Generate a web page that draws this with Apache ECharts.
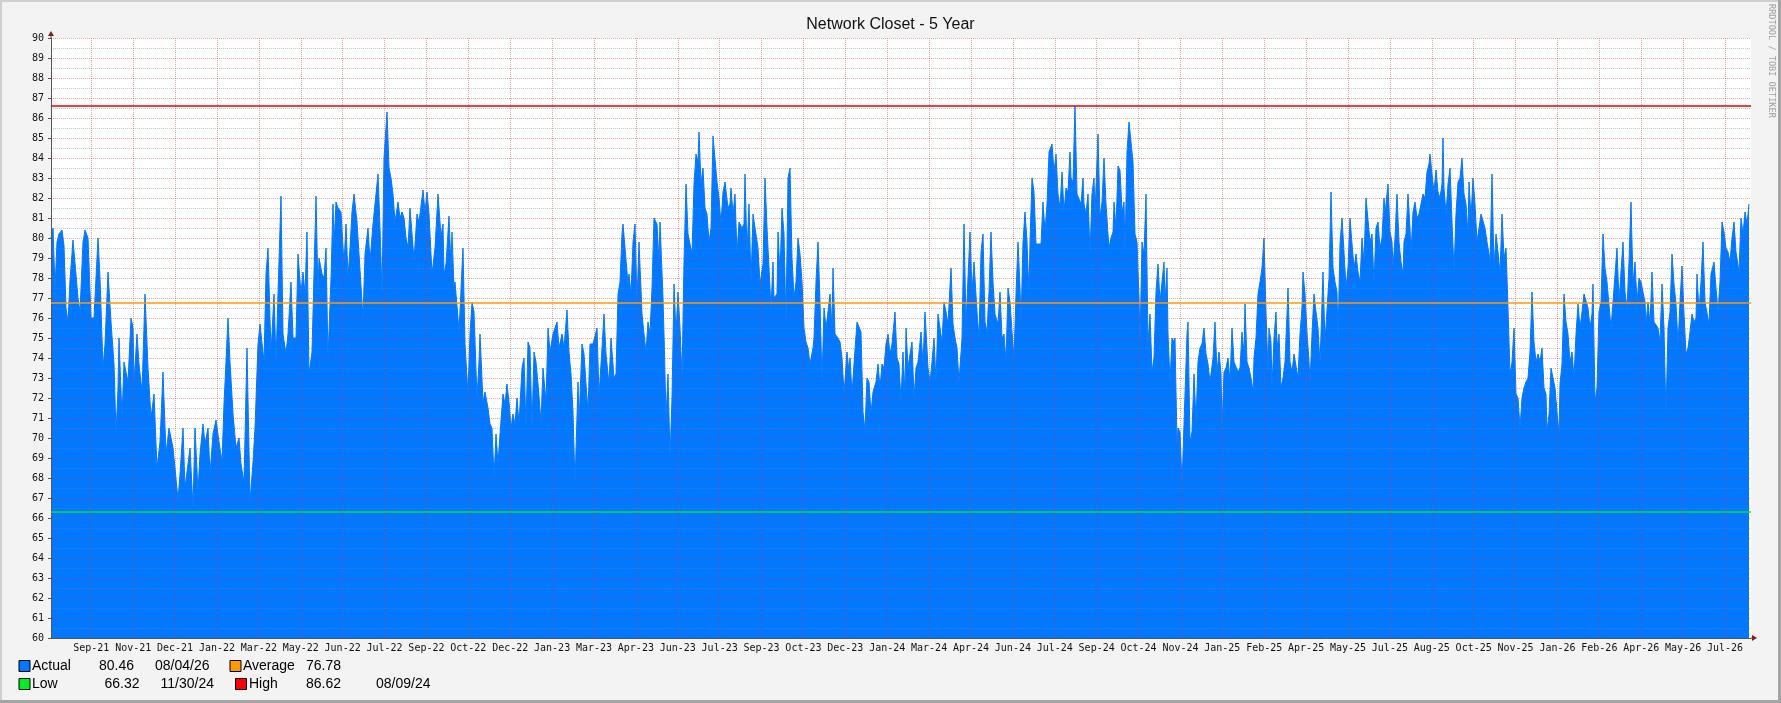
<!DOCTYPE html>
<html>
<head>
<meta charset="utf-8">
<script src="https://cdn.jsdelivr.net/npm/echarts@6/dist/echarts.min.js"></script>
<style>
html,body{margin:0;padding:0;background:#f3f3f3;}
#c{width:1781px;height:703px;}
</style>
</head>
<body>
<div id="c"></div>
<script>
// x positions are rrdtool consolidation columns (0..1700, one per plot column)
const colsA = [0,2,4,6,8,11,13,15,17,19,22,24,27,29,32,34,37,40,43,47,49,52,54,57,60,63,65,67,68,71,73,77,80,82,83,86,88,91,94,97,100,103,106,109,112,115,118,122,124,127,129,132,134,137,139,142,144,147,149,152,154,157,159,162,165,168,171,173,177,179,182,185,188,190,193,196,199,202,204,207,209,213,215,217,220,223,225,227,230,232,235,237,240,242,245,247,250,252,254,256,258,261,265,267,268,271,273,275,277,280,282,283,285,287,290,293,295,297,299,301,303,306,308,312,314,317,319,322,324,327,329,331,333,336,338];
const tempsA = [80.0,80.5,77.5,79.8,80.2,80.4,79.6,76.5,75.8,77.9,79.9,79.8,77,76.3,79.8,80.4,80.0,76,76,80,78,73.5,74.7,78.3,75.8,73.7,70.2,72.5,75,71,73.8,72.8,76,75.5,72.8,75.2,73.7,72.3,77.2,73.5,71,72.2,68.5,69.8,73.3,69.2,70.5,69.5,68.5,66.9,68.2,70.5,67.5,68.7,69.5,66.5,70.5,67.3,69.2,70.7,69.7,70.5,68.2,70.2,70.9,69.8,68.8,71.7,76,73.8,71.2,69.5,70,68.7,67.8,74.5,66.8,68.8,70.5,74.7,75.7,73.8,78.2,79.5,74.2,77.2,73.8,77.2,82.1,75.2,74.2,75.2,77.8,75,75,79.2,77.2,78.3,77.2,80.3,73.2,74.3,82.1,77.2,79,78.2,78,79.5,74,78,81.7,79.7,81.8,81.5,81.3,78.7,80.7,78,79.5,81.3,82.2,80.8,80.7,76,79.2,80.5,78.8,80.7,80.8,83.2,80.5,77.2,84,86.3,83.5];

const colsB = [340,342,344,347,349,351,353,355,357,359,361,363,366,368,372,374,376,378,381,383,384,387,390,392,393,395,398,400,401,403,404,407,408,411,412,414,417,419,421,423,426,428,429,432,434,437,439,441,443,445,447,449,452,454,456,458,460,462,464,466,468,471,473,475,477,479,481,483,485,487,490,492,495,497,499,502,504,506,508,511,513,516,518,520,522,524,527,528,531,533,535,537,539,542,544,546,548,551,553,555,557,558,560,563,565,567,569,571,572,574,577,578,580,582,584,586,588,591,593,595,597,599,601,603,606,608,609,612,613,615,617,619,621,623,625,627,629,631,633,635,637,639,641,643,645,647,648,650,652,654,656,658,660,662,664,666,668,670,672,674,677,679];
const tempsB = [83.0,82.2,80.8,81.8,81,81.3,81,80,79.5,81.5,80.2,78.9,81.2,80.8,82.4,81.3,82.3,81.2,78.2,78.3,79.5,82.2,80.1,80.7,78.2,78.7,81.1,78.5,80.3,77.5,77.8,76,75.3,78.5,79.5,74.7,72.2,75.2,76.8,76.3,72,73.8,75.2,71.8,72.3,71.5,70.7,70.5,68,70.2,68.7,70.2,72.2,71.7,72.7,71.8,70.5,71.2,70.7,72,70.7,73.5,74,70.5,74.8,74.5,70.5,74.3,73.8,72.7,70.8,73.5,71.8,75.5,74.3,75.2,75.5,75.8,74.5,75.2,74.5,76.4,74.3,73.2,71.3,67.7,72.8,70.7,74.7,74.2,72.7,71.3,74.7,74.7,74.8,75.5,72.1,74.5,76.2,74.2,74.2,72.7,75,73,73.2,77.2,77.8,80.2,80.7,79.5,77.7,78.2,77.2,79.8,80.7,76.8,79.8,76.2,75.2,74.3,75.8,75.2,77.5,81,80.7,78.8,80.8,77,75.2,71,73.2,69,72,77.7,75.2,77.3,75.5,73,78.8,82.7,80.2,80.2,79.2,82.7,84.2,83.8,85.3,82.7,83.5,81.5,81.2,79.8,80.5,85.1,85,82.8,82,80.7,82.3,82.8,81.5,81.7];

const colsC = [680,682,684,686,688,691,693,694,696,698,700,702,704,707,709,712,714,716,718,720,722,723,726,727,729,731,733,735,737,739,741,743,745,747,749,751,753,755,757,759,762,763,765,767,769,771,773,775,777,779,781,782,784,787,789,791,793,796,798,799,801,803,806,808,810,812,814,816,818,820,822,825,827,829,831,833,835,837,839,841,844,846,848,850,852,854,855,857,859,861,863,865,867,870,872,874,877,879,881,883,885,887,889,891,893,895,897,900,902,904,906,908,911,913,915,917,919,921,923,926,928,930,932,934,936,938,940,942,944,947,949,951,953,955,957,959,961,963,965,967,969,970,972,974,976,978,979,981,983,985,987,990,992,994,996,998,1001,1003,1005,1007,1009,1011,1013,1015,1017,1019];
const tempsC = [82.5,81.2,82.2,79.2,80.8,80.5,80.7,83.2,79.3,81.7,77.8,81.2,80.5,79.5,77.7,78.7,83,80.5,78.5,76.5,78.8,77,77.2,80.3,78.2,81.5,80.2,75.7,83,83.5,79,77,77.8,80,79.2,77.8,75.5,74.8,74.5,73.7,74.5,75,77.8,79.8,76.8,72.8,76.5,75.5,76.3,77.2,75.5,78.5,75.2,75,74.8,74,72.2,74.3,73.3,74,72.2,73.7,75.8,75.8,75.3,71.3,70.4,73,72.8,71.2,72.3,72.8,73.7,72.5,73.7,73.5,74.7,75.2,74.2,74.7,76.3,74,73.7,71.8,74.3,72.2,75.5,73.5,74.2,74.8,72,73.5,73.8,75.3,73.7,76.3,73.5,72.8,73.8,75,72.8,76.2,75.5,74.8,76.8,76.3,75.7,78.5,75.7,75,74.5,72.8,75,80.7,75.7,75.8,80.3,77.3,78.8,76.3,75,79.3,80.2,75.8,75.3,77.3,80.3,77.8,76.2,75.7,77.3,75,75.2,73.8,77.5,76.8,75.3,74,77.2,79.8,77.5,75.7,79.8,81.3,79.8,77.2,79.8,83,82.3,79.7,79.7,79.7,81.8,80.3,81.7,84.3,84.7,83.3,84.2,82.2,81.5,83.3,81.3,82.5,82.3,84.3];

const colsD = [1020,1022,1024,1026,1028,1030,1032,1033,1035,1037,1039,1041,1043,1044,1047,1049,1051,1053,1055,1057,1058,1060,1062,1063,1065,1067,1069,1071,1073,1074,1076,1078,1080,1082,1084,1086,1088,1089,1091,1093,1095,1097,1099,1101,1103,1105,1107,1109,1111,1113,1114,1116,1117,1119,1121,1123,1124,1126,1127,1129,1131,1133,1134,1136,1137,1139,1141,1143,1145,1147,1149,1151,1153,1155,1157,1159,1162,1164,1166,1168,1170,1171,1173,1175,1177,1179,1181,1183,1185,1187,1189,1191,1193,1194,1196,1198,1200,1202,1203,1205,1207,1209,1211,1213,1215,1217,1218,1220,1221,1223,1225,1226,1228,1230,1232,1234,1236,1237,1239,1241,1243,1245,1247,1249,1251,1252,1254,1256,1258,1259,1261,1263,1265,1267,1269,1270,1272,1274,1276,1278,1280,1282,1284,1286,1287,1289,1291,1293,1295,1297,1299,1301,1303,1305,1307,1309,1311,1313,1315,1317,1319,1321,1323,1325,1327,1329,1331,1333,1334,1337,1339,1341,1342,1344,1346,1348,1350,1352,1353,1355,1357,1359];
const tempsD = [83,82.8,86.6,82.2,82.3,81.7,83,81.7,81.2,82.2,79.2,82.2,83,81.2,85.2,81,81.8,84,81.7,80.2,79.5,80,80.3,81.8,80.5,83.6,83.4,81.3,81.8,79.3,84.3,85.8,85.8,83.8,80.2,79.8,77,74.8,79.8,79.2,82.2,74.7,76.2,73.3,74,77.3,78.7,76.8,76.8,78.8,76.8,78.5,75.2,72.8,75,74.8,75,69.7,70.5,70.3,67.7,67.7,72.2,75.2,75.8,69.8,70.3,73.2,70.8,73.8,74.5,74.7,75.5,74.2,73.7,72.8,74,75.8,73.3,74.3,73.2,70.5,73.3,73.5,74,72.8,75.5,73.8,73.7,73.3,73.5,75.3,74.2,76.7,73.8,73.5,73,72.3,74,75,77.2,77.8,78.5,80,76.3,73.3,75.5,74.8,72.5,75,76.3,74.5,75.2,72.5,73,73.8,76.2,77.5,73.8,73.3,74.2,74.2,73,75.2,76.5,78.3,77.2,75.3,73.8,72.7,75.2,77.2,76.3,75.5,73.7,75.2,78.3,74.8,74.7,78,82.3,78.5,77.8,77.3,75,79.7,81,79.3,77.5,78.5,81,79.7,78.5,79.2,78.3,77.8,80,78.8,82,82,79.8,80.2,77.7,80.5,80.8,79.5,80,82,81.2,82.7,80.3,79.8,78.5,80,82.2,79.8,78.8,78.2,79.8,80.2,82.2,80.5];

const colsE = [1360,1362,1364,1366,1368,1370,1372,1374,1376,1378,1379,1381,1383,1385,1387,1389,1391,1392,1393,1395,1397,1399,1401,1403,1405,1407,1409,1411,1413,1415,1417,1418,1420,1422,1424,1426,1428,1430,1432,1434,1436,1438,1439,1441,1443,1445,1447,1449,1451,1453,1455,1457,1459,1461,1463,1465,1467,1469,1471,1473,1475,1477,1479,1481,1483,1485,1487,1489,1491,1493,1495,1496,1498,1500,1502,1504,1506,1508,1509,1511,1513,1515,1517,1519,1521,1523,1525,1527,1529,1531,1533,1535,1537,1539,1541,1542,1544,1546,1548,1550,1552,1554,1556,1558,1560,1562,1564,1566,1568,1570,1572,1574,1576,1578,1580,1582,1584,1586,1588,1590,1592,1594,1595,1597,1599,1601,1603,1605,1607,1609,1611,1613,1614,1615,1617,1619,1621,1623,1625,1627,1629,1631,1633,1635,1637,1639,1641,1643,1645,1646,1648,1650,1652,1654,1656,1658,1660,1662,1663,1665,1667,1669,1671,1673,1675,1677,1679,1681,1683,1685,1687,1688,1690,1692,1694,1696,1698];
const tempsE = [79.2,81.3,81.8,81,81.2,81.7,82.2,82,83.3,83.7,84.2,83.2,82.3,83.4,82.3,82,82.7,85,82.5,81.2,82.7,83.5,80.8,78.3,81.2,82.8,83,84,82.2,81.7,80.2,82.8,81,83,81.7,79.8,80.5,81.2,81.3,80.5,79.8,79.2,78.7,83.2,78.5,80.2,79.3,78.2,81.2,79,79.5,76.5,73.2,73.8,75.5,72.2,72,70.5,72,72.5,72.8,73,74.3,77.3,74.8,73.8,74.2,73.8,74.5,72.5,72.2,70.3,71.2,73.5,73.5,72.5,71.3,70.2,72.7,73.7,77.2,75.8,75.2,73.8,74.3,73,75.2,76.7,75.5,76.3,77.2,77.2,76.5,75.5,76.2,77.7,71.8,72.5,76.3,76.8,80.2,78.5,77.8,77.8,75.5,76.8,76.8,79.5,76.8,76.8,79.8,77.3,76.5,78.8,81.8,77.7,78.8,76.8,78,77.8,77.8,76.8,75.7,76.8,75.7,78.3,75.8,75.7,75.5,74.8,77.7,75.5,73.2,71.2,75.5,76.3,79.2,77.7,76.7,74.7,76.8,78.6,76.2,74.2,74.5,75.3,76.2,75.8,76,78.2,76.3,77.8,79.8,76.8,76.7,75.7,78.2,78.2,78.8,77.5,76.3,77.8,80.8,80.3,79.5,79.3,78.8,80,80.8,79.3,79.2,78.3,81,80.2,81.3,80.7,81.7];

const monthLabels = ['Sep-21','Nov-21','Dec-21','Jan-22','Mar-22','May-22','Jun-22','Jul-22','Sep-22','Oct-22',
  'Dec-22','Jan-23','Mar-23','Apr-23','Jun-23','Jul-23','Sep-23','Oct-23','Dec-23','Jan-24',
  'Mar-24','Apr-24','Jun-24','Jul-24','Sep-24','Oct-24','Nov-24','Jan-25','Feb-25','Apr-25',
  'May-25','Jul-25','Aug-25','Oct-25','Nov-25','Jan-26','Feb-26','Apr-26','May-26','Jul-26'];

const titleText = 'Network Closet - 5 Year';
const lastValue = 80.46, lastDate = '08/04/26';
const avgValue = 76.78;
const lowValue = 66.32, lowDate = '11/30/24';
const highValue = 86.62, highDate = '08/09/24';

const totalCols = 1700;
const firstTickCol = 40.3, tickSpacingCols = 41.89;
const tickCols = monthLabels.map((_, k) => firstTickCol + k * tickSpacingCols);

const cols = [].concat(colsA, colsB, colsC, colsD, colsE);
const temps = [].concat(tempsA, tempsB, tempsC, tempsD, tempsE);
const seriesData = cols.map((c, i) => [c, temps[i]]);

const BLUE = '#0078ff', ORANGE = '#ff9a00', GREEN = '#00e040', RED = '#e80000';
const majorGrid = 'rgba(215,60,60,0.45)';
const minorGrid = 'rgba(130,130,130,0.45)';

const chart = echarts.init(document.getElementById('c'));

chart.setOption({
  animation: false,
  backgroundColor: '#f3f3f3',
  title: {
    text: titleText, left: 'center', top: 12,
    textStyle: { fontFamily: 'Liberation Sans', fontSize: 16, fontWeight: 'normal', color: '#111' }
  },
  grid: { left: 51, top: 38, width: 1700, height: 600, show: true, backgroundColor: '#ffffff', borderWidth: 0 },
  xAxis: {
    type: 'value', min: 0, max: totalCols, z: 3,
    axisLine: { show: true, onZero: false, lineStyle: { color: '#555', width: 1 } },
    axisTick: { show: false, customValues: tickCols },
    axisLabel: {
      customValues: tickCols,
      formatter: v => monthLabels[Math.round((v - firstTickCol) / tickSpacingCols)] || '',
      fontFamily: 'DejaVu Sans Mono', fontSize: 10, color: '#111', margin: 5
    },
    splitLine: { show: true, lineStyle: { color: majorGrid, type: [1, 1], width: 1 } }
  },
  yAxis: {
    type: 'value', min: 60, max: 90, interval: 1, z: 3,
    axisLine: { show: true, lineStyle: { color: '#555', width: 1 } },
    axisTick: { show: true, length: 3, lineStyle: { color: '#555' } },
    minorTick: { show: false, splitNumber: 2 },
    axisLabel: { fontFamily: 'DejaVu Sans Mono', fontSize: 10, color: '#111', margin: 7 },
    splitLine: { show: true, lineStyle: { color: majorGrid, type: [1, 1], width: 1 } },
    minorSplitLine: { show: true, lineStyle: { color: minorGrid, type: [1, 1], width: 1 } }
  },
  series: [{
    type: 'line', data: seriesData, symbol: 'none', showSymbol: false, z: 2,
    emphasis: { disabled: true }, silent: true,
    lineStyle: { color: BLUE, width: 1 },
    areaStyle: { color: BLUE, opacity: 1, origin: 'start' },
    markLine: {
      silent: true, symbol: ['none', 'none'], label: { show: false }, z: 10, animation: false,
      data: [
        { yAxis: highValue, lineStyle: { color: RED, width: 1.5, type: 'solid' } },
        { yAxis: avgValue, lineStyle: { color: ORANGE, width: 1.5, type: 'solid' } },
        { yAxis: lowValue, lineStyle: { color: GREEN, width: 1.5, type: 'solid' } }
      ]
    }
  }]
});

// decorations: axis arrows, frame, legend, credit
const tl = chart.convertToPixel({ gridIndex: 0 }, [0, 90]);
const br = chart.convertToPixel({ gridIndex: 0 }, [totalCols, 60]);
const ARROW = '#8b1a1a';
const F = 'Liberation Sans';
function txt(x, y, s, align) {
  return { type: 'text', x: x, y: y, silent: true,
    style: { text: s, font: '14px "' + F + '"', fill: '#000', align: align || 'left', verticalAlign: 'middle' } };
}
function box(x, y, color) {
  return { type: 'rect', shape: { x: x, y: y, width: 11, height: 11 }, silent: true,
    style: { fill: color, stroke: '#000', lineWidth: 1 } };
}
const row1 = 666, row2 = 684;
chart.setOption({
  graphic: [
    { type: 'rect', shape: { x: 0, y: 0, width: 1781, height: 2 }, style: { fill: '#cfcfcf' }, silent: true },
    { type: 'rect', shape: { x: 0, y: 0, width: 2, height: 703 }, style: { fill: '#cfcfcf' }, silent: true },
    { type: 'rect', shape: { x: 0, y: 700, width: 1781, height: 3 }, style: { fill: '#a4a4a4' }, silent: true },
    { type: 'rect', shape: { x: 1778, y: 0, width: 3, height: 703 }, style: { fill: '#a4a4a4' }, silent: true },
    { type: 'line', shape: { x1: tl[0], y1: tl[1], x2: tl[0], y2: tl[1] - 3 }, style: { stroke: '#555', lineWidth: 1 }, silent: true },
    { type: 'polygon', shape: { points: [[tl[0] - 3, tl[1] - 2], [tl[0] + 3, tl[1] - 2], [tl[0], tl[1] - 7]] }, style: { fill: ARROW }, silent: true },
    { type: 'line', shape: { x1: br[0], y1: br[1], x2: br[0] + 2, y2: br[1] }, style: { stroke: '#555', lineWidth: 1 }, silent: true },
    { type: 'polygon', shape: { points: [[br[0] + 1, br[1] - 3], [br[0] + 1, br[1] + 3], [br[0] + 6, br[1]]] }, style: { fill: ARROW }, silent: true },
    { type: 'text', x: 1771.5, y: 4, rotation: -Math.PI / 2, silent: true,
      style: { text: 'RRDTOOL / TOBI OETIKER', font: '8.6px "DejaVu Sans Mono"', fill: '#a0a0a0', align: 'left', verticalAlign: 'middle' } },
    box(19, row1 - 5.5, BLUE), txt(32, row1, 'Actual'), txt(134, row1, lastValue.toFixed(2), 'right'), txt(155, row1, lastDate),
    box(230, row1 - 5.5, ORANGE), txt(243, row1, 'Average'), txt(341, row1, avgValue.toFixed(2), 'right'),
    box(19, row2 - 5.5, '#00ee22'), txt(32, row2, 'Low'), txt(139.5, row2, lowValue.toFixed(2), 'right'), txt(160.5, row2, lowDate),
    box(235.5, row2 - 5.5, '#ff0000'), txt(249, row2, 'High'), txt(341, row2, highValue.toFixed(2), 'right'), txt(376, row2, highDate)
  ]
});
</script>
</body>
</html>
